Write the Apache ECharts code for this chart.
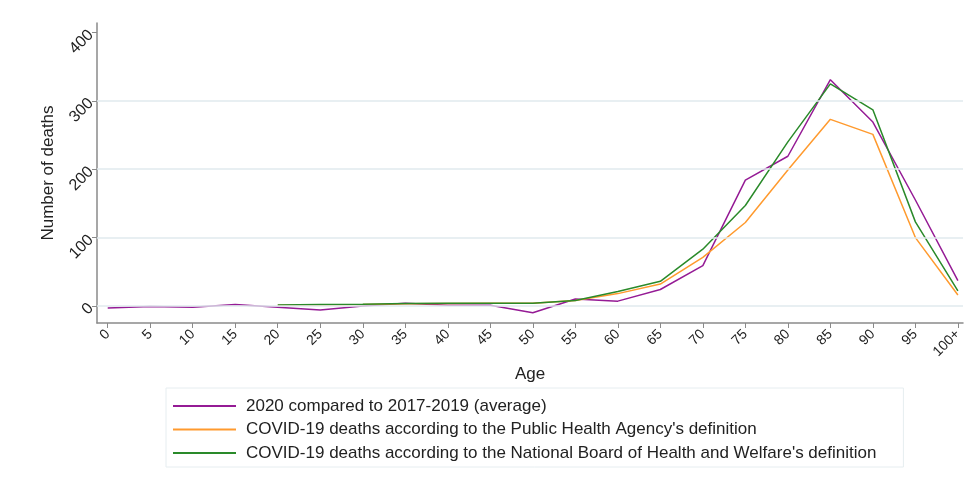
<!DOCTYPE html>
<html>
<head>
    <meta charset="utf-8" />
    <title>Deaths by age</title>
    <script type="text/javascript" src="https://cdn.jsdelivr.net/npm/echarts@6/dist/echarts.min.js"></script>
    <style>
        html, body { margin: 0; padding: 0; background: #fff; }
        #con1 { width: 967px; height: 483px; }
    </style>
</head>
<body>
    <div id="con1"></div>
    <script type="text/javascript">
        // age groups (start of each 5-year band)
        var ageLabels = ['0', '5', '10', '15', '20', '25', '30', '35', '40', '45', '50',
                         '55', '60', '65', '70', '75', '80', '85', '90', '95', '100+'];
        var ageStep = 5;
        var yTicks = [0, 100, 200, 300, 400];
        var gridValues = [0, 100, 200, 300];

        var names = [
            '2020 compared to 2017-2019 (average)',
            "COVID-19 deaths according to the Public Health Agency's definition",
            "COVID-19 deaths according to the National Board of Health and Welfare's definition"
        ];
        // excess deaths vs average
        var excess = [-3, -1, -2, 2, -2, -6, 0, 4, 1, 1, -10, 10, 7, 24, 59, 184, 219, 331, 269, 155, 37];
        // Public Health Agency
        var pha = [null, null, null, null, 1, 1.5, 2, 3, 3.5, 4, 4, 8, 18, 32, 71, 122, 199, 273, 251, 100, 16];
        // National Board of Health and Welfare
        var nbhw = [null, null, null, null, 1.5, 2, 2.5, 3.5, 4, 4, 4, 8, 21, 36, 83, 147, 240, 325, 287, 123, 22];

        function pairs(arr) {
            return arr.map(function (v, i) { return [i * ageStep, v]; });
        }
        var xTicks = ageLabels.map(function (l, i) { return i * ageStep; });

        var myChart = echarts.init(document.getElementById('con1'));
        var option = {
            backgroundColor: '#ffffff',
            animation: false,
            color: ['#951b95', '#ff9a2e', '#2a8a2a'],
            textStyle: { fontFamily: 'Liberation Sans', color: '#222' },
            grid: { left: 97, top: 23, right: 4, bottom: 160 },
            legend: {
                orient: 'vertical',
                left: 166,
                top: 388,
                padding: [8, 27, 4, 7],
                borderColor: '#e6edf0',
                borderWidth: 1,
                itemWidth: 63,
                itemHeight: 2,
                itemGap: 3.5,
                icon: 'rect',
                textStyle: { fontSize: 17, color: '#222', lineHeight: 20, fontFamily: 'Liberation Sans', padding: [0, 0, 0, 5] },
                data: names
            },
            xAxis: {
                type: 'value',
                min: -1.26,
                max: 100.6,
                name: 'Age',
                nameLocation: 'middle',
                nameGap: 42,
                nameTextStyle: { fontSize: 17, color: '#222' },
                axisLine: { onZero: false, lineStyle: { color: '#8a8a8a', width: 1.5 } },
                axisTick: { show: true, length: 5, customValues: xTicks, lineStyle: { color: '#8a8a8a' } },
                axisLabel: {
                    customValues: xTicks,
                    rotate: 45,
                    fontSize: 14,
                    color: '#222',
                    margin: 9,
                    formatter: function (v) { return ageLabels[Math.round(v / ageStep)]; }
                },
                splitLine: { show: false }
            },
            yAxis: {
                type: 'value',
                min: -25,
                max: 414,
                name: 'Number of deaths',
                nameLocation: 'middle',
                nameGap: 40,
                nameTextStyle: { fontSize: 17, color: '#222' },
                axisLine: { show: true, onZero: false, lineStyle: { color: '#8a8a8a', width: 1.5 } },
                axisTick: { show: true, length: 5, customValues: yTicks, lineStyle: { color: '#8a8a8a' } },
                axisLabel: { customValues: yTicks, rotate: 45, fontSize: 16, color: '#222', margin: 6 },
                splitLine: { show: false }
            },
            series: [{
                // grid lines only, kept under the data lines
                name: 'grid',
                type: 'line',
                z: 0,
                data: [],
                markLine: {
                    silent: true,
                    symbol: 'none',
                    label: { show: false },
                    lineStyle: { color: '#e1eaee', width: 1.5, type: 'solid' },
                    data: gridValues.map(function (v) { return { yAxis: v }; })
                }
            }, {
                name: names[0],
                type: 'line',
                data: pairs(excess),
                showSymbol: false,
                color: '#951b95',
                lineStyle: { width: 1.5 }
            }, {
                name: names[1],
                type: 'line',
                data: pairs(pha),
                showSymbol: false,
                color: '#ff9a2e',
                lineStyle: { width: 1.5 }
            }, {
                name: names[2],
                type: 'line',
                data: pairs(nbhw),
                showSymbol: false,
                color: '#2a8a2a',
                lineStyle: { width: 1.5 }
            }]
        };
        option && myChart.setOption(option);
    </script>
</body>
</html>
